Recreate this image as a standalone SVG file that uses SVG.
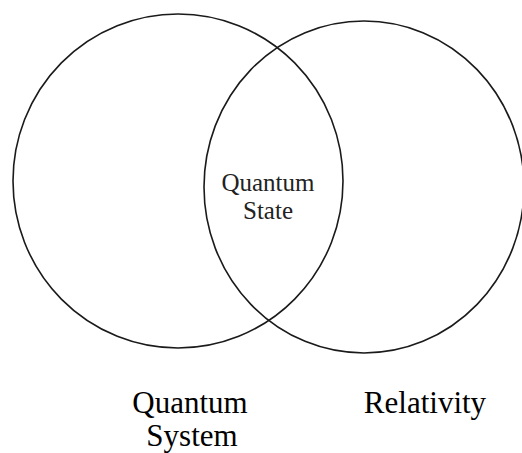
<svg xmlns="http://www.w3.org/2000/svg" width="522" height="453" viewBox="0 0 522 453">
<style>
.c{fill:none;stroke:#1a1a1a;stroke-width:1.6}
.t{font-family:"Liberation Serif","Times New Roman",serif;fill:#000;text-anchor:middle}
.s{font-size:25px;fill:#222}
.b{font-size:31px}
</style>
<rect width="522" height="453" fill="#fff"/>
<g id="quantum-system">
<ellipse class="c" cx="178" cy="181" rx="165" ry="167"/>
<text class="t b" x="190" y="413">Quantum</text>
<text class="t b" x="192" y="446">System</text>
</g>
<g id="relativity">
<ellipse class="c" cx="364" cy="187" rx="160" ry="166"/>
<text class="t b" x="425" y="413">Relativity</text>
</g>
<g id="quantum-state">
<text class="t s" x="268" y="191">Quantum</text>
<text class="t s" x="268" y="219">State</text>
</g>
</svg>
